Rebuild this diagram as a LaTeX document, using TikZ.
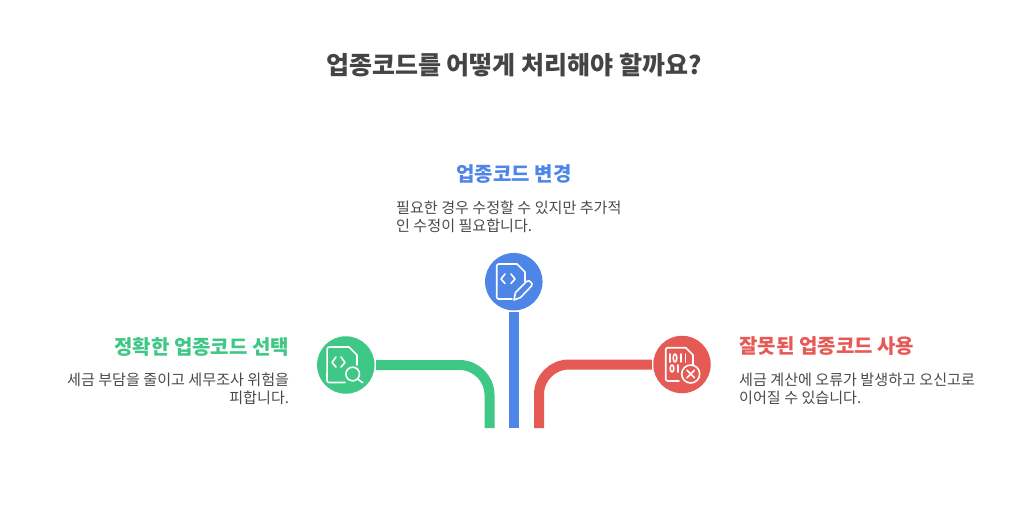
\documentclass[tikz,border=0pt]{standalone}
\usepackage{fontspec}
\setmainfont{Noto Sans CJK KR}
\definecolor{cgreen}{HTML}{3EC785}
\definecolor{cblue}{HTML}{4E86E8}
\definecolor{cred}{HTML}{E65A55}
\definecolor{ctitle}{HTML}{444444}
\definecolor{cbody}{HTML}{4A4A4A}
\newcommand{\pxfont}[2]{\fontsize{#1}{#2}\selectfont}
\tikzset{
  x=1pt,y=-1pt,
  hub/.style={circle,minimum size=57.5pt,inner sep=0pt,outer sep=1.5pt,fill=#1},
  link/.style={line width=10pt,draw=#1,rounded corners=30pt},
  icon/.style={draw=white,line width=1.6pt,line cap=round,line join=round},
  titletext/.style={font=\pxfont{25}{30}\bfseries,text=ctitle,inner sep=0pt},
  headtext/.style={font=\pxfont{20}{24}\bfseries,inner sep=0pt},
  bodytext/.style={font=\pxfont{15.1}{18},text=cbody,inner sep=0pt,align=#1},
}
\begin{document}
\begin{tikzpicture}
\useasboundingbox (0,0) rectangle (1027,510);
\node[titletext] (title) at (514,64.7) {업종코드를 어떻게 처리해야 할까요?};
\node[hub=cgreen] (gc) at (345.8,365) {};
\node[hub=cblue] (bc) at (513.8,281.7) {};
\node[hub=cred] (rc) at (682,364.5) {};
\coordinate (ge) at (489.5,428);
\coordinate (be) at (513.8,428);
\coordinate (re) at (539,428);
\draw[link=cgreen] (gc.east) -| (ge);
\draw[link=cblue] (bc.south) -- (be);
\draw[link=cred] (rc.west) -| (re);
% blue text
\node[headtext,text=cblue,anchor=center] (bh) at (514,174.5) {업종코드 변경};
\node[bodytext=left,anchor=north west] (bb) at (396,200.5) {필요한 경우 수정할 수 있지만 추가적\\인 수정이 필요합니다.};
% green text
\node[headtext,text=cgreen,anchor=east] (gh) at (289.3,346.5) {정확한 업종코드 선택};
\node[bodytext=right,anchor=north east] (gb) at (289.3,372.5) {세금 부담을 줄이고 세무조사 위험을\\피합니다.};
% red text
\node[headtext,text=cred,anchor=west] (rh) at (739.3,346.5) {잘못된 업종코드 사용};
\node[bodytext=left,anchor=north west] (rb) at (739,372.5) {세금 계산에 오류가 발생하고 오신고로\\이어질 수 있습니다.};
% green icon
\draw[icon] (345,382.5) -- (329,382.5) arc[start angle=90,end angle=180,radius=2] -- (327.2,349) arc[start angle=180,end angle=270,radius=2] -- (349,347) -- (357,355) -- (357,365);
\draw[icon] (336,357) -- (332,362.5) -- (336,367) (341,357) -- (345,362.5) -- (341,367);
\draw[icon] (352.7,374) circle[radius=6.8];
\draw[icon] (357.6,379) -- (362.7,382.7);
% blue icon
\draw[icon] (512,299) -- (498.7,299) arc[start angle=90,end angle=180,radius=2] -- (496.7,266) arc[start angle=180,end angle=270,radius=2] -- (517,264) -- (525,272) -- (525,281.5);
\draw[icon] (505,274) -- (501,279) -- (505,283.5) (511,274) -- (515,279) -- (511,283.5);
\draw[icon] (514,300) -- (515.5,292.5) -- (526.5,281.5) -- (529,280.7) -- (532,283.5) -- (531.5,286) -- (520.5,297.5) -- cycle;
% red icon
\draw[icon] (679,381) -- (667.7,381) arc[start angle=90,end angle=180,radius=2] -- (665.7,349.7) arc[start angle=180,end angle=270,radius=2] -- (685.7,347.7) -- (693,355) -- (693,365);
\draw[icon] (670,354) -- (670,362) (681,354) -- (681,362) (685.5,354) -- (685.5,362) (678,365) -- (678,372);
\draw[icon] (675,358) ellipse[x radius=1.8,y radius=4];
\draw[icon] (672,368.5) ellipse[x radius=1.8,y radius=3.5];
\draw[icon] (690.7,374) circle[radius=9];
\draw[icon] (687,370.3) -- (694.4,377.7) (694.4,370.3) -- (687,377.7);
\end{tikzpicture}
\end{document}
